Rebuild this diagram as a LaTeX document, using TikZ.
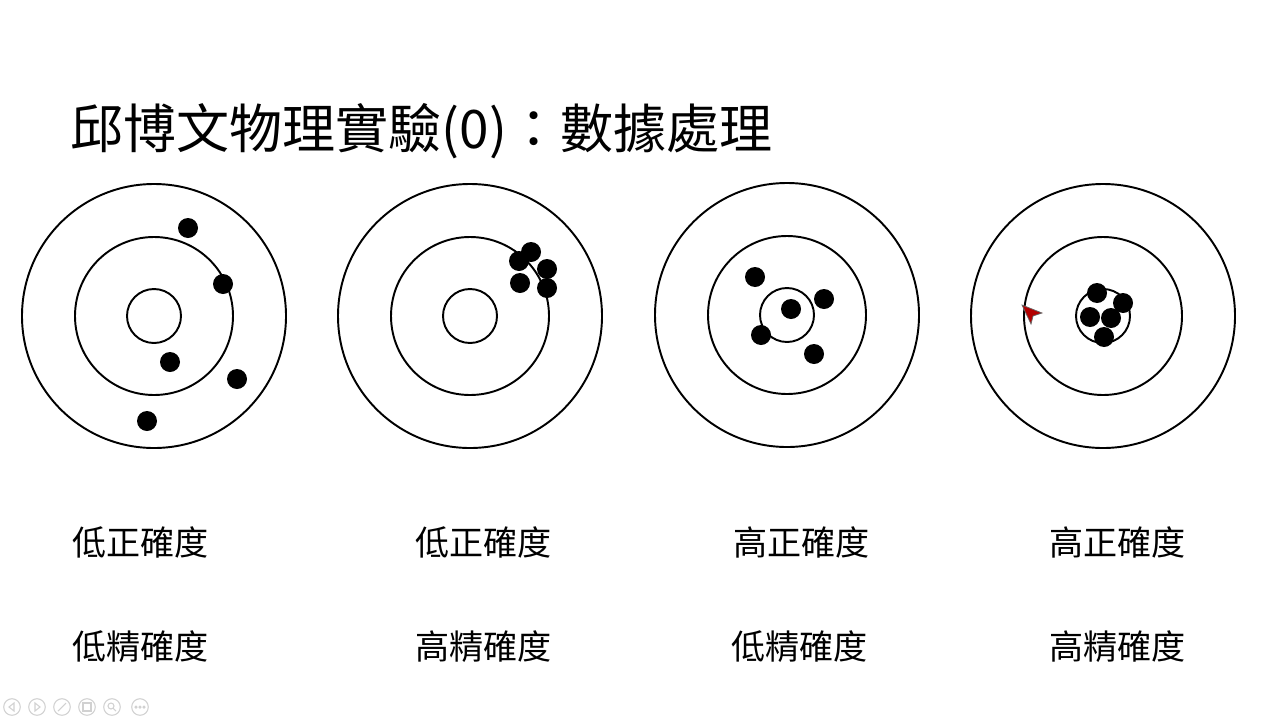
\documentclass[tikz,border=0pt]{standalone}
\usepackage{fontspec}
\setmainfont{Noto Sans CJK TC}
\usetikzlibrary{positioning}

\begin{document}
\begin{tikzpicture}[
    x=0.02cm,y=-0.02cm,
    ring/.style={draw,line width=1.1pt},
    shot/.style={fill=black},
    caption/.style={anchor=west,inner sep=0pt,font=\fontsize{19.4}{23}\selectfont},
    ctrl/.style={draw=black!18,line width=0.6pt}
]
\useasboundingbox[fill=white] (0,0) rectangle (1280,720);

\node[anchor=west,inner sep=0pt,font=\fontsize{30.2}{36}\selectfont] (title) at (70,131) {邱博文物理實驗(0)：數據處理};

% target centres
\coordinate (t1) at (154,316);
\coordinate (t2) at (470,316);
\coordinate (t3) at (787,315);
\coordinate (t4) at (1103,316);

\foreach \t in {t1,t2,t3,t4}{
  \draw[ring] (\t) circle[radius=132];
  \draw[ring] (\t) circle[radius=79];
  \draw[ring] (\t) circle[radius=27];
}

% shots
\foreach \p in {(188,228),(223,284),(170,362),(237,379),(147,421)}
  \fill[shot] \p circle[radius=10];
\foreach \p in {(531,252),(519,261),(547,269),(520,283),(547,288)}
  \fill[shot] \p circle[radius=10];
\foreach \p in {(755,277),(824,299),(791,309),(761,335),(814,354)}
  \fill[shot] \p circle[radius=10];
\foreach \p in {(1097,293),(1123,303),(1090,317),(1111,318),(1104,337)}
  \fill[shot] \p circle[radius=10];

% captions
\node[caption] (acc1) at (72,542) {低正確度};
\node[caption] (acc2) at (415,542) {低正確度};
\node[caption] (acc3) at (733,542) {高正確度};
\node[caption] (acc4) at (1049,542) {高正確度};
\node[caption] (pre1) at (72,647) {低精確度};
\node[caption] (pre2) at (415,647) {高精確度};
\node[caption] (pre3) at (731,647) {低精確度};
\node[caption] (pre4) at (1049,647) {高精確度};

% pointer
\filldraw[fill=red!70!black,draw=black!60,line width=0.4pt]
  (1022,305) -- (1042,313) -- (1033,316) -- (1031,324) -- cycle;

% slide controls
\foreach \x in {12,37,62,87,112,140}
  \draw[ctrl] (\x,707) circle[radius=8.3];
\draw[ctrl] (14,703) -- (9,707) -- (14,711) -- cycle;
\draw[ctrl] (35,703) -- (40,707) -- (35,711) -- cycle;
\draw[ctrl] (58,711) -- (66,703);
\draw[ctrl] (83,703) rectangle (91,711);
\draw[ctrl] (111,706) circle[radius=3] (113,708) -- (116,711);
\foreach \x in {136,140,144}
  \draw[ctrl] (\x,707) circle[radius=1];
\end{tikzpicture}
\end{document}
